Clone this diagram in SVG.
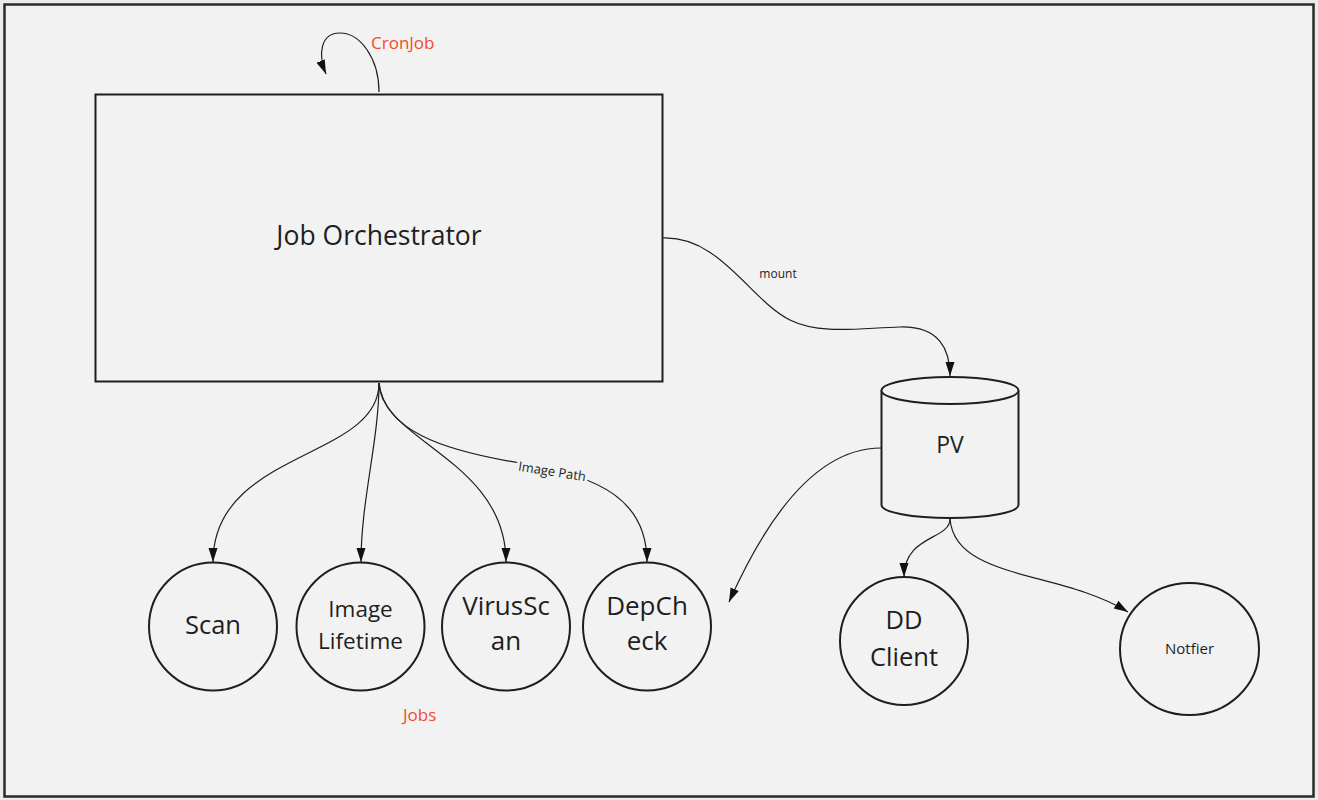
<svg xmlns="http://www.w3.org/2000/svg" width="1318" height="800" viewBox="0 0 1318 800">
<style>
.shape{fill:#f2f2f2;stroke:#1e1e1e;stroke-width:2}
.lbl{font-family:"Open Sans","Liberation Sans",sans-serif;fill:#1e1e1e;text-anchor:middle}
.red{font-family:"Open Sans","Liberation Sans",sans-serif;fill:#f24a2c;font-size:17px}
.conn path{fill:none;stroke:#1e1e1e;stroke-width:1.2;marker-end:url(#arr)}
</style>
<defs>
<marker id="arr" markerUnits="userSpaceOnUse" markerWidth="16" markerHeight="12" refX="14" refY="4.5" orient="auto">
<path d="M0,0 L14,4.5 L0,9 Z" fill="#111"/>
</marker>
</defs>
<rect width="1318" height="800" fill="#ebebeb"/>
<rect x="4.5" y="4.5" width="1309" height="792" fill="#f2f2f2" stroke="#2a2a2a" stroke-width="2.5"/>

<g id="connectors" class="conn">
<path d="M379,92 C379,58 360,33 340,33 C320,33 318,55 326,74"/>
<path d="M663,238 C720,236 750,300 790,320 C820,335 860,328 900,327 C940,326 950,350 950,376"/>
<path d="M379,383 C379,460 213,450 213,562"/>
<path d="M379,383 C379,440 361,500 361,562"/>
<path d="M379,383 C380,440 506,460 506,562"/>
<path d="M379,383 C385,430 440,450 520,463 C600,476 647,500 647,562"/>
<path d="M881,448 C820,448 770,510 729,602"/>
<path d="M950,519 C950,540 904,535 904,577"/>
<path d="M950,519 C955,580 1060,570 1128,612"/>
</g>
<text class="lbl" x="778" y="278" font-size="12" fill="#333">mount</text>
<text class="lbl" x="552" y="476" font-size="13" transform="rotate(9 552 472)" stroke="#f2f2f2" stroke-width="6" paint-order="stroke">Image Path</text>
<text class="red" x="371" y="49">CronJob</text>
<text class="red" x="403" y="721">Jobs</text>

<g id="orchestrator">
<rect class="shape" x="95.5" y="94.5" width="567" height="287"/>
<text class="lbl" x="379" y="245" font-size="26.5">Job Orchestrator</text>
</g>
<g id="pv">
<path class="shape" d="M881.5,390.5 L881.5,505 A68.5,13 0 0 0 1018.5,505 L1018.5,390.5"/>
<ellipse class="shape" cx="950" cy="390.5" rx="68.5" ry="13.5"/>
<text class="lbl" x="950" y="453" font-size="23">PV</text>
</g>
<g id="scan">
<circle class="shape" cx="213" cy="626.5" r="64"/>
<text class="lbl" x="213" y="634" font-size="25.5">Scan</text>
</g>
<g id="image-lifetime">
<circle class="shape" cx="360.5" cy="626.5" r="64"/>
<text class="lbl" x="360.5" y="617" font-size="22.5">Image</text>
<text class="lbl" x="360.5" y="649" font-size="22.5">Lifetime</text>
</g>
<g id="virusscan">
<circle class="shape" cx="506" cy="626.5" r="64"/>
<text class="lbl" x="506" y="615" font-size="26">VirusSc</text>
<text class="lbl" x="506" y="650" font-size="26">an</text>
</g>
<g id="depcheck">
<circle class="shape" cx="647" cy="626.5" r="64"/>
<text class="lbl" x="647" y="615" font-size="26">DepCh</text>
<text class="lbl" x="647" y="650" font-size="26">eck</text>
</g>
<g id="dd-client">
<circle class="shape" cx="904" cy="641" r="64"/>
<text class="lbl" x="904" y="629" font-size="25.5">DD</text>
<text class="lbl" x="904" y="666" font-size="25.5">Client</text>
</g>
<g id="notifier">
<ellipse class="shape" cx="1189.5" cy="649" rx="69.5" ry="66"/>
<text class="lbl" x="1189.5" y="654" font-size="15">Notfier</text>
</g>
</svg>
